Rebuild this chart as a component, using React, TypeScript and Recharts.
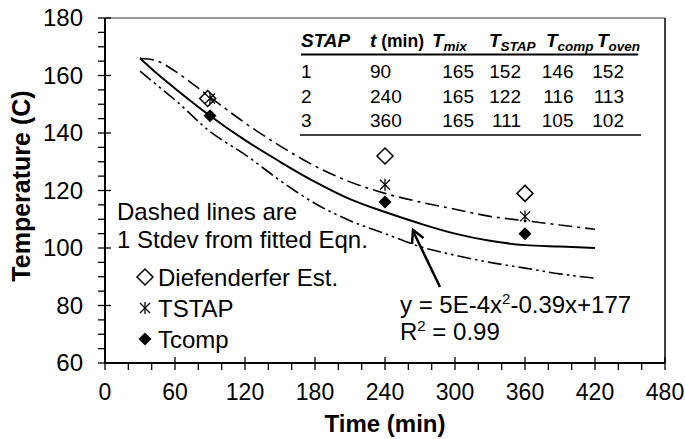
import React from "react";
import {
  ComposedChart,
  Line,
  Scatter,
  XAxis,
  YAxis,
  ReferenceLine,
} from "recharts";

// fitted curve and +/- 1 stdev bands
const CURVE_TIME = [30, 45, 60, 90, 120, 150, 180, 210, 240, 270, 300, 330, 360, 390, 420];
const FIT = [166, 160.5, 155.5, 146, 137.5, 130, 123, 117, 112.5, 108.5, 105, 102.5, 101, 100.5, 100];
const UPPER = [166, 165, 161.5, 152.5, 143.5, 135.5, 128.5, 123, 119, 116, 113.5, 111, 109.5, 108, 106.5];
const LOWER = [161.5, 156.5, 151.5, 140.5, 132.5, 123.5, 115.5, 109.5, 105, 100.5, 97.5, 95, 93, 91, 89.5];

// measured points
const STAP_TIME = [90, 240, 360];
const DIEF_TIME = [88, 240, 360];
const DIEF = [152, 132, 119];
const TSTAP = [152, 122, 111];
const TCOMP = [146, 116, 105];

// inset table
const TABLE_STAP = ["1", "2", "3"];
const TABLE_TIME = [90, 240, 360];
const TABLE_MIX = [165, 165, 165];
const TABLE_TSTAP = [152, 122, 111];
const TABLE_COMP = [146, 116, 105];
const TABLE_OVEN = [152, 113, 102];

const X_TICKS = [0, 20, 40, 60, 80, 100, 120, 140, 160, 180, 200, 220, 240, 260, 280, 300, 320, 340, 360, 380, 400, 420, 440, 460, 480];
const Y_TICKS = [60, 65, 70, 75, 80, 85, 90, 95, 100, 105, 110, 115, 120, 125, 130, 135, 140, 145, 150, 155, 160, 165, 170, 175, 180];

const FONT = "'Liberation Sans', Arial, sans-serif";

const toPts = (xs: number[], ys: number[]) => xs.map((t, i) => ({ t, v: ys[i] }));

const fitData = toPts(CURVE_TIME, FIT);
const upperData = toPts(CURVE_TIME, UPPER);
const lowerData = toPts(CURVE_TIME, LOWER);
const diefData = toPts(DIEF_TIME, DIEF);
const tstapData = toPts(STAP_TIME, TSTAP);
const tcompData = toPts(STAP_TIME, TCOMP);

const XTick = (props: any) => {
  const { x, y, payload } = props;
  const major = payload.value % 60 === 0;
  return (
    <g>
      <line x1={x} x2={x} y1={major ? y - 6 : y} y2={y + 7} stroke="#000" strokeWidth={1.3} />
      {major && (
        <text x={x} y={y + 37} textAnchor="middle" fontSize={23} fill="#000" fontFamily={FONT}>
          {payload.value}
        </text>
      )}
    </g>
  );
};

const YTick = (props: any) => {
  const { x, y, payload } = props;
  const major = payload.value % 20 === 0;
  return (
    <g>
      <line x1={x - 7} x2={major ? x + 6 : x} y1={y} y2={y} stroke="#000" strokeWidth={1.3} />
      {major && (
        <text x={x - 22} y={y + 8} textAnchor="end" fontSize={24} fill="#000" fontFamily={FONT}>
          {payload.value}
        </text>
      )}
    </g>
  );
};

const OpenDiamond = (p: any) => (
  <path
    d={`M${p.cx},${p.cy - 8}L${p.cx + 8},${p.cy}L${p.cx},${p.cy + 8}L${p.cx - 8},${p.cy}Z`}
    fill="none"
    stroke="#000"
    strokeWidth={1.5}
  />
);

const Star = (p: any) => (
  <g stroke="#000" strokeWidth={1.3}>
    <line x1={p.cx - 5} y1={p.cy - 5} x2={p.cx + 5} y2={p.cy + 5} />
    <line x1={p.cx - 5} y1={p.cy + 5} x2={p.cx + 5} y2={p.cy - 5} />
    <line x1={p.cx} y1={p.cy - 6} x2={p.cx} y2={p.cy + 6} />
  </g>
);

const FilledDiamond = (p: any) => (
  <path
    d={`M${p.cx},${p.cy - 6.5}L${p.cx + 6.5},${p.cy}L${p.cx},${p.cy + 6.5}L${p.cx - 6.5},${p.cy}Z`}
    fill="#000"
  />
);

const Sub = ({ children }: { children: string }) => (
  <tspan fontSize={13.5} dy={4}>
    {children}
  </tspan>
);

const Overlay = () => {
  const rowY = [78, 103, 127];
  return (
    <svg
      width={685}
      height={439}
      style={{ position: "absolute", left: 0, top: 0, pointerEvents: "none" }}
      fontFamily={FONT}
      fill="#000"
    >
      {/* table */}
      <g fontSize={19} fontWeight="bold" fontStyle="italic">
        <text x={301} y={47}>STAP</text>
        <text x={370} y={47}>
          t<tspan fontStyle="normal" fontSize={17.5}> (min)</tspan>
        </text>
        <text x={432} y={47}>T<Sub>mix</Sub></text>
        <text x={489} y={47}>T<Sub>STAP</Sub></text>
        <text x={546} y={47}>T<Sub>comp</Sub></text>
        <text x={597} y={47}>T<Sub>oven</Sub></text>
      </g>
      <line x1={301} x2={638} y1={54.5} y2={54.5} stroke="#000" strokeWidth={2} />
      <g fontSize={19}>
        {TABLE_STAP.map((s, i) => (
          <g key={s}>
            <text x={301} y={rowY[i]}>{s}</text>
            <text x={370} y={rowY[i]}>{TABLE_TIME[i]}</text>
            <text x={474} y={rowY[i]} textAnchor="end">{TABLE_MIX[i]}</text>
            <text x={521} y={rowY[i]} textAnchor="end">{TABLE_TSTAP[i]}</text>
            <text x={573.5} y={rowY[i]} textAnchor="end">{TABLE_COMP[i]}</text>
            <text x={624} y={rowY[i]} textAnchor="end">{TABLE_OVEN[i]}</text>
          </g>
        ))}
      </g>
      <line x1={300} x2={641} y1={135} y2={135} stroke="#000" strokeWidth={1.5} />

      {/* legend / notes */}
      <g fontSize={24}>
        <text x={117} y={220}>Dashed lines are</text>
        <text x={117} y={248}>1 Stdev from fitted Eqn.</text>
        <text x={158} y={286}>Diefenderfer Est.</text>
        <text x={158} y={317}>TSTAP</text>
        <text x={158} y={348}>Tcomp</text>
      </g>
      <OpenDiamond cx={145} cy={277} />
      <Star cx={145} cy={308} />
      <FilledDiamond cx={145} cy={339} />

      {/* equation and arrow */}
      <g fontSize={24}>
        <text x={400} y={313}>
          y = 5E-4x<tspan fontSize={15} dy={-9}>2</tspan>
          <tspan dy={9}>-0.39x+177</tspan>
        </text>
        <text x={400} y={340}>
          R<tspan fontSize={15} dy={-9}>2</tspan>
          <tspan dy={9}> = 0.99</tspan>
        </text>
      </g>
      <line x1={440} y1={287} x2={413} y2={231} stroke="#000" strokeWidth={2.5} />
      <polyline points="412,244 413,230 423.5,238" fill="none" stroke="#000" strokeWidth={2.5} />

      {/* axis titles */}
      <text x={385} y={432} textAnchor="middle" fontSize={24} fontWeight="bold">
        Time (min)
      </text>
      <text
        transform="translate(30,186) rotate(-90)"
        textAnchor="middle"
        fontSize={25}
        fontWeight="bold"
      >
        Temperature (C)
      </text>
    </svg>
  );
};

export default function App() {
  return (
    <div style={{ position: "absolute", left: 0, top: 0, width: 685, height: 439, background: "#fff" }}>
      <ComposedChart width={685} height={439} margin={{ top: 18, right: 20, bottom: 46, left: 45 }}>
        <XAxis
          type="number"
          dataKey="t"
          domain={[0, 480]}
          ticks={X_TICKS}
          interval={0}
          height={30}
          tickSize={0}
          tickMargin={0}
          tickLine={false}
          axisLine={{ stroke: "#000", strokeWidth: 2 }}
          tick={(p: any) => <XTick {...p} />}
          allowDataOverflow
        />
        <YAxis
          type="number"
          dataKey="v"
          domain={[60, 180]}
          ticks={Y_TICKS}
          interval={0}
          width={60}
          tickSize={0}
          tickMargin={0}
          tickLine={false}
          axisLine={{ stroke: "#000", strokeWidth: 2 }}
          tick={(p: any) => <YTick {...p} />}
          allowDataOverflow
        />
        <ReferenceLine y={180} stroke="#333" strokeWidth={1} />
        <ReferenceLine x={480} stroke="#000" strokeWidth={1.5} />
        <Line
          data={upperData}
          dataKey="v"
          type="monotone"
          stroke="#000"
          strokeWidth={1.6}
          strokeDasharray="14 5 3 5"
          dot={false}
          activeDot={false}
          isAnimationActive={false}
        />
        <Line
          data={lowerData}
          dataKey="v"
          type="monotone"
          stroke="#000"
          strokeWidth={1.6}
          strokeDasharray="14 4 2.5 4 2.5 4"
          dot={false}
          activeDot={false}
          isAnimationActive={false}
        />
        <Line
          data={fitData}
          dataKey="v"
          type="monotone"
          stroke="#000"
          strokeWidth={2}
          dot={false}
          activeDot={false}
          isAnimationActive={false}
        />
        <Scatter data={diefData} dataKey="v" shape={OpenDiamond} isAnimationActive={false} />
        <Scatter data={tstapData} dataKey="v" shape={Star} isAnimationActive={false} />
        <Scatter data={tcompData} dataKey="v" shape={FilledDiamond} isAnimationActive={false} />
      </ComposedChart>
      <Overlay />
    </div>
  );
}
